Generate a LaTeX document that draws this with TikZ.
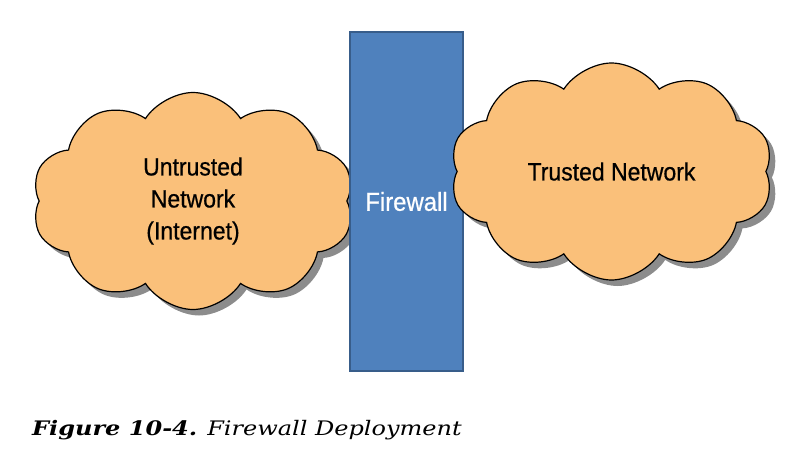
\documentclass[tikz,border=0pt]{standalone}
\usepackage{fontspec}
\newfontfamily\labelfont[FakeStretch=0.92, FakeBold=0.6]{Liberation Sans}
\newfontfamily\captionfont[FakeStretch=1.2]{DejaVu Serif}
\usetikzlibrary{shapes.symbols,shadows}

\definecolor{fwblue}{RGB}{79, 129, 189}
\definecolor{fwedge}{RGB}{56, 93, 138}
\definecolor{cloudfill}{RGB}{250, 192, 122}
\definecolor{cloudshade}{RGB}{140, 140, 140}

\tikzset{
  netcloud/.style={cloud, cloud puffs=10, cloud puff arc=115, draw=black,
    line width=1.2pt, fill=cloudfill, align=center, inner sep=0pt,
    font=\labelfont\fontsize{25}{32}\selectfont,
    drop shadow={shadow xshift=6pt, shadow yshift=-6pt, fill=cloudshade, opacity=1}},
  wallbox/.style={rectangle, draw=fwedge, line width=2pt, fill=fwblue,
    text=white, font=\labelfont\fontsize{26}{32}\selectfont}
}

\begin{document}
\begin{tikzpicture}[x=1pt, y=-1pt]
        \useasboundingbox (0,0) rectangle (811,460);
        % untrusted side
        \node[netcloud, minimum width=322pt, minimum height=217pt] (untrusted) at (193,201)
          {Untrusted\\Network\\(Internet)};
        % the firewall itself
        \node[wallbox, minimum width=113pt, minimum height=339pt] (firewall) at (406.5,201.5) {Firewall};
        % trusted side (negative xsep keeps the wide label from growing the cloud)
        \node[netcloud, inner xsep=-60pt, minimum width=323pt, minimum height=217pt] (trusted) at (611.5,171.5)
          {Trusted Network};

        % caption
        \node[anchor=base west, inner sep=0pt, font=\captionfont\fontsize{20}{24}\selectfont] (caption) at (32,435)
          {\textbf{\textit{Figure 10-4.}}\hspace{0.5em}\textit{Firewall Deployment}};
      \end{tikzpicture}
\end{document}
